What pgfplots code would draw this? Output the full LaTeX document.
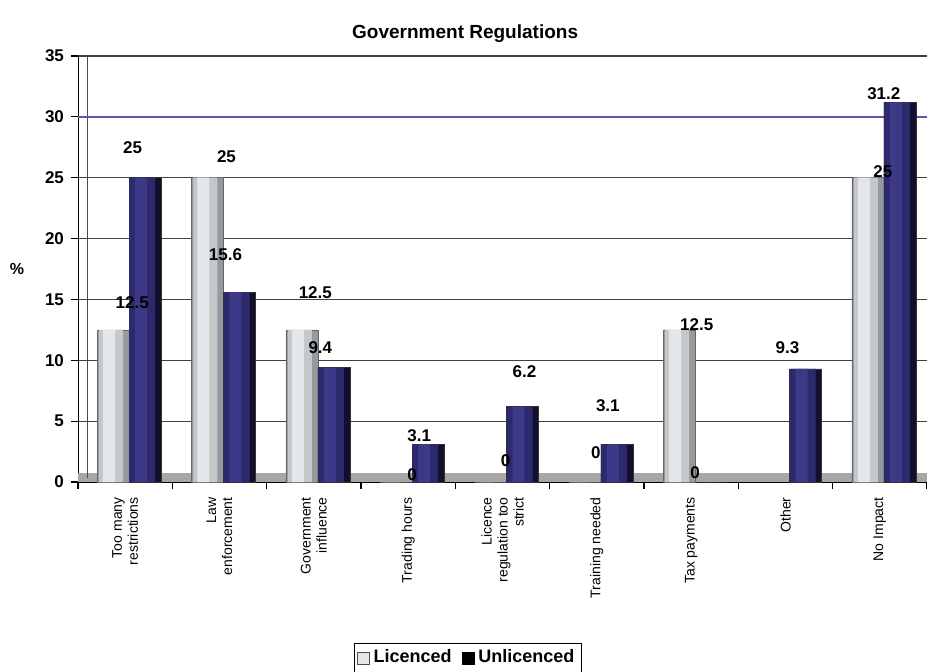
\documentclass[border=0pt]{standalone}
\usepackage{fontspec}
\setmainfont{Liberation Sans}
\usepackage{pgfplots}
\usepackage{pgfplotstable}
\pgfplotsset{compat=1.18}

\definecolor{licA}{RGB}{150,154,157}
\definecolor{licB}{RGB}{196,200,202}
\definecolor{licC}{RGB}{228,231,233}
\definecolor{unlA}{RGB}{18,16,45}
\definecolor{unlB}{RGB}{44,41,108}
\definecolor{unlC}{RGB}{60,58,134}
\definecolor{grid30}{RGB}{95,85,170}

% x = category index, y = value, lbl = label, dx/dy = label offsets (pt)
\pgfplotstableread{
x y lbl dx dy
0 12.5 12.5 3.5 13.5
1 25 25 3.5 10.75
2 12.5 12.5 0.75 18.85
3 0 0 2 3.5
4 0 0 1.5 10.5
5 0 0 -0.5 14.5
6 12.5 12.5 2.75 2.85
8 25 25 1.5 3.25
}\licenced

\pgfplotstableread{
x y lbl dx dy
0 25 25 3.75 15.25
1 15.6 15.6 3 18.5
2 9.4 9.4 3.25 9.75
3 3.1 3.1 5.5 4.5
4 6.2 6.2 11 17.25
5 3.1 3.1 5.5 19.5
6 0 0 2 4.5
7 9.3 9.3 1 10.35
8 31.2 31.2 2 4.5
}\unlicenced

\pgfplotsset{
  lbls/.style={
    point meta=explicit symbolic,
    visualization depends on={\thisrow{dx}\as\dx},
    visualization depends on={\thisrow{dy}\as\dy},
    nodes near coords,
    nodes near coords style={anchor=center, xshift=\dx pt, yshift=\dy pt, font=\bfseries\fontsize{8.5}{10}\selectfont, text=black},
  },
}

\begin{document}
\begin{tikzpicture}
\useasboundingbox (0,0) rectangle (463.5pt,335.5pt);
\begin{axis}[
  at={(39pt,94.5pt)}, anchor=south west,
  scale only axis,
  width=424.5pt, height=213pt,
  xmin=-0.5, xmax=8.5,
  ymin=0, ymax=35,
  ytick={0,5,...,35},
  xtick={-0.5,0.5,...,8.5},
  x tick label as interval,
  xticklabels={{Too many\\restrictions},{Law\\enforcement},{Government\\influence},{Trading hours},{Licence\\regulation too\\strict},{Training needed},{Tax payments},{Other},{No Impact}},
  xticklabel style={rotate=90, anchor=east, align=right, font=\fontsize{7}{8}\selectfont, inner sep=1pt, xshift=-3pt},
  yticklabel style={font=\bfseries\fontsize{8.5}{10}\selectfont},
  /pgf/number format/assume math mode=true,
  axis x line*=bottom, axis y line*=left,
  axis line style={-, black},
  tick align=outside,
  major tick length=3.5pt,
  tick style={black, line width=0.6pt},
  ymajorgrids, grid style={black!75, line width=0.6pt},
  xmajorgrids=false,
  title={Government Regulations},
  title style={font=\bfseries\fontsize{9.5}{11}\selectfont, at={(axis description cs:0.456,1.025)}, anchor=center},
  ylabel={\%},
  ylabel style={rotate=-90, font=\bfseries\fontsize{8}{10}\selectfont, at={(axis description cs:-0.072,0.5)}, anchor=center},
  legend style={at={(axis description cs:0.459,-0.413)}, anchor=center, legend columns=2, draw=black, font=\bfseries\fontsize{9}{11}\selectfont, inner sep=1.5pt, /tikz/every even column/.append style={column sep=3pt}},
  legend cell align=left,
  clip=false,
]
\fill[black!35] (axis cs:-0.5,0) rectangle (axis cs:8.5,0.7);
\draw[black!70, line width=0.5pt] ([xshift=5pt]axis description cs:0,0.01) -- ([xshift=5pt]axis description cs:0,1);
\draw[grid30, line width=0.8pt] (axis cs:-0.5,30) -- (axis cs:8.5,30);

% Licenced (light cylinders, three shading layers)
\addplot[ybar, bar width=16pt, bar shift=-6pt, fill=licA, draw=black!60, line width=0.3pt,
  legend image code/.code={\draw[fill=licC, draw=black!70] (0pt,-3pt) rectangle (6pt,3pt);}
] table[x=x, y=y] {\licenced};
\addlegendentry{Licenced}
\addplot[ybar, forget plot, bar width=12pt, bar shift=-7pt, fill=licB, draw=none] table[x=x, y=y] {\licenced};
\addplot[ybar, forget plot, bar width=6pt, bar shift=-8pt, fill=licC, draw=none, lbls] table[x=x, y=y, meta=lbl] {\licenced};

% Unlicenced (dark cylinders, three shading layers)
\addplot[ybar, bar width=16pt, bar shift=10pt, fill=unlA, draw=black!80, line width=0.3pt,
  legend image code/.code={\draw[fill=black, draw=black] (0pt,-3pt) rectangle (6pt,3pt);}
] table[x=x, y=y] {\unlicenced};
\addlegendentry{Unlicenced}
\addplot[ybar, forget plot, bar width=13pt, bar shift=8.5pt, fill=unlB, draw=none] table[x=x, y=y] {\unlicenced};
\addplot[ybar, forget plot, bar width=6pt, bar shift=8pt, fill=unlC, draw=none, lbls] table[x=x, y=y, meta=lbl] {\unlicenced};
\end{axis}
\end{tikzpicture}
\end{document}
